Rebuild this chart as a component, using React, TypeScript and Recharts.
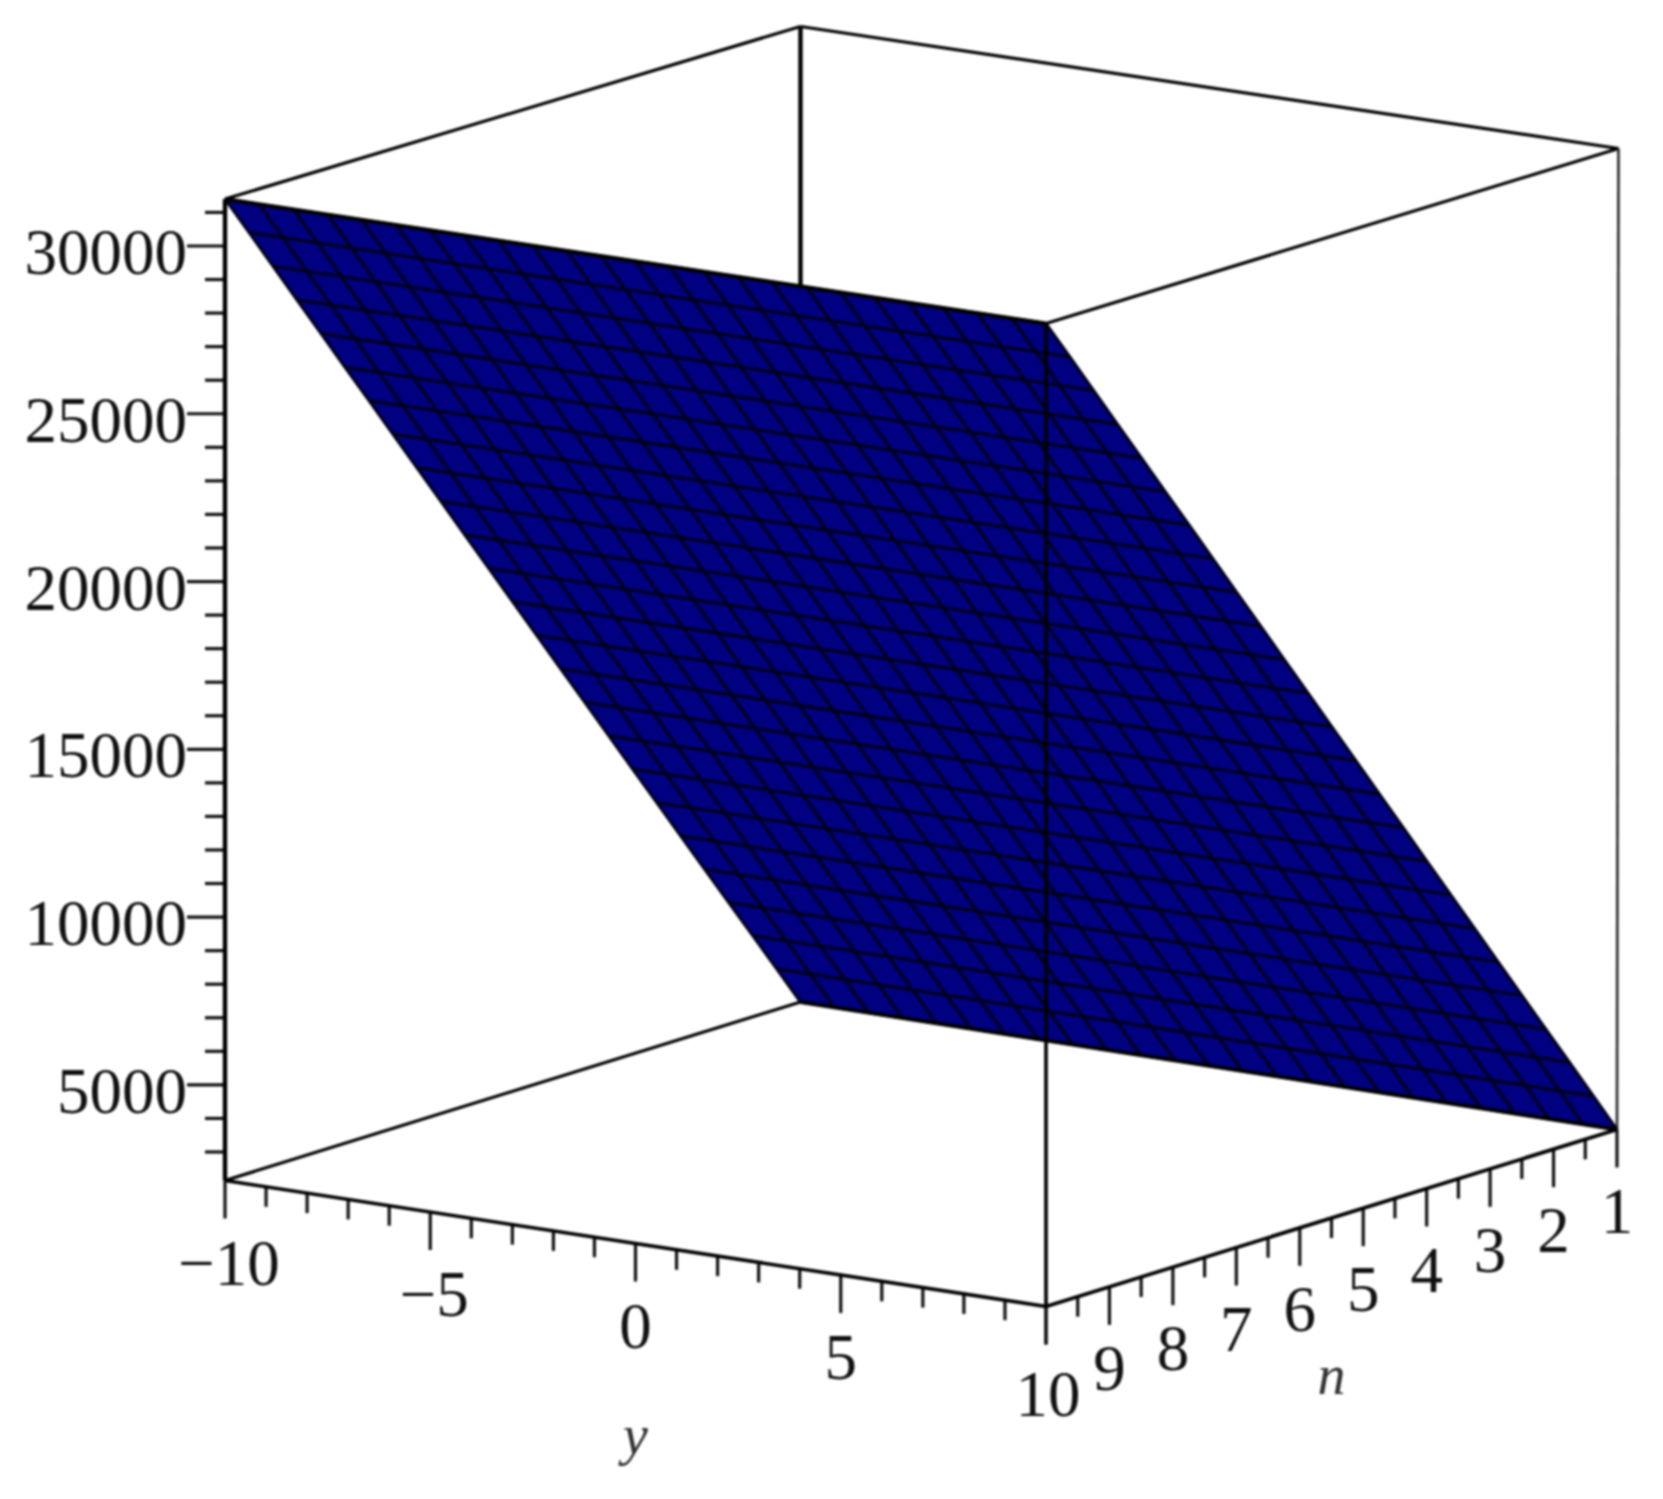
import React from 'react';
import { ComposedChart, XAxis, YAxis, Area, Line, Scatter } from 'recharts';

const W = 1663;
const H = 1499;

// Tick values
const zMajorTicks = [5000, 10000, 15000, 20000, 25000, 30000];
const zMinorTicks = [3000, 4000, 6000, 7000, 8000, 9000, 11000, 12000, 13000, 14000, 16000, 17000, 18000, 19000, 21000, 22000, 23000, 24000, 26000, 27000, 28000, 29000, 31000];
const yMajorTicks = [-10, -5, 0, 5, 10];
const yMinorTicks = [-9, -8, -7, -6, -4, -3, -2, -1, 1, 2, 3, 4, 6, 7, 8, 9];
const nMajorTicks = [1, 2, 3, 4, 5, 6, 7, 8, 9, 10];
const nMinorTicks = [1.5, 2.5, 3.5, 4.5, 5.5, 6.5, 7.5, 8.5, 9.5];

// Surface mesh: 25 x 25 grid
const meshY = [-10, -9.17, -8.33, -7.5, -6.67, -5.83, -5, -4.17, -3.33, -2.5, -1.67, -0.83, 0, 0.83, 1.67, 2.5, 3.33, 4.17, 5, 5.83, 6.67, 7.5, 8.33, 9.17, 10];
const meshN = [1, 1.375, 1.75, 2.125, 2.5, 2.875, 3.25, 3.625, 4, 4.375, 4.75, 5.125, 5.5, 5.875, 6.25, 6.625, 7, 7.375, 7.75, 8.125, 8.5, 8.875, 9.25, 9.625, 10];
const meshZ = [2150, 3370, 4590, 5800, 7020, 8240, 9460, 10680, 11900, 13120, 14340, 15560, 16780, 18000, 19220, 20440, 21660, 22880, 24100, 25310, 26530, 27750, 28970, 30190, 31400];

const Y_MIN = -10, Y_MAX = 10, N_MIN = 1, N_MAX = 10, Z_MIN = 2150, Z_MAX = 31400;

// View projection of the 3-D box onto the plane of the chart axes
const bottomCorners = { a: [225, 1180.5], b: [1046, 1306.5], c: [1617, 1129.5], d: [800.5, 1002] };
const topCorners = { a: [225, 199], b: [1046, 323.5], c: [1618.5, 148.5], d: [800.5, 26.5] };

type P = { px: number; py: number };

function project(y: number, n: number, z: number): P {
  const u = (y - Y_MIN) / (Y_MAX - Y_MIN);
  const v = (N_MAX - n) / (N_MAX - N_MIN);
  const w = (z - Z_MIN) / (Z_MAX - Z_MIN);
  const bil = (c: Record<string, number[]>, i: number) =>
    c.a[i] * (1 - u) * (1 - v) + c.b[i] * u * (1 - v) + c.c[i] * u * v + c.d[i] * (1 - u) * v;
  return {
    px: bil(bottomCorners, 0) * (1 - w) + bil(topCorners, 0) * w,
    py: bil(bottomCorners, 1) * (1 - w) + bil(topCorners, 1) * w,
  };
}

const zOf = (n: number) => meshZ[meshN.indexOf(n)];

const A = project(Y_MIN, N_MAX, Z_MAX);
const B = project(Y_MAX, N_MAX, Z_MAX);
const C = project(Y_MAX, N_MIN, Z_MIN);
const D = project(Y_MIN, N_MIN, Z_MIN);
const at = (p: P, q: P, x: number) => p.py + ((q.py - p.py) * (x - p.px)) / (q.px - p.px);

const surfaceBand = [
  { px: A.px, band: [A.py, A.py] },
  { px: D.px, band: [at(A, B, D.px), D.py] },
  { px: B.px, band: [B.py, at(D, C, B.px)] },
  { px: C.px, band: [C.py, C.py] },
];

const corner = project;
const backTop = corner(-10, 1, Z_MAX);

const backEdges: P[][] = [
  [corner(-10, 10, Z_MAX), corner(-10, 1, Z_MAX)],
  [corner(-10, 1, Z_MAX), corner(10, 1, Z_MAX)],
  [corner(10, 1, Z_MAX), corner(10, 10, Z_MAX)],
  // the rear post disappears behind the surface
  [backTop, { px: backTop.px, py: at(A, B, backTop.px) }],
  [corner(-10, 10, Z_MIN), corner(-10, 1, Z_MIN)],
];
const rightEdge: P[] = [corner(10, 1, Z_MAX), corner(10, 1, Z_MIN)];
const frontEdges: P[][] = [
  [corner(-10, 10, Z_MAX), corner(10, 10, Z_MAX)],
  [corner(-10, 1, Z_MIN), corner(10, 1, Z_MIN)],
  [corner(-10, 10, Z_MAX), corner(-10, 10, Z_MIN)],
  [corner(10, 10, Z_MAX), corner(10, 10, Z_MIN)],
  [corner(-10, 10, Z_MIN), corner(10, 10, Z_MIN)],
  [corner(10, 10, Z_MIN), corner(10, 1, Z_MIN)],
];

const meshConstN: P[][] = meshN.map((n) => [project(Y_MIN, n, zOf(n)), project(Y_MAX, n, zOf(n))]);
const meshConstY: P[][] = meshY.map((y) => meshN.map((n) => project(y, n, zOf(n))));

const MAJOR = 38;
const MINOR = 20;
const downTick = (p: P, len: number): P[] => [p, { px: p.px, py: p.py + len }];
const leftTick = (p: P, len: number): P[] => [p, { px: p.px - len, py: p.py }];

const tickSegments: P[][] = [
  ...zMajorTicks.map((z) => leftTick(project(-10, 10, z), MAJOR)),
  ...zMinorTicks.map((z) => leftTick(project(-10, 10, z), MINOR)),
  ...yMajorTicks.map((y) => downTick(project(y, 10, Z_MIN), MAJOR)),
  ...yMinorTicks.map((y) => downTick(project(y, 10, Z_MIN), MINOR)),
  ...nMajorTicks.map((n) => downTick(project(10, n, Z_MIN), MAJOR)),
  ...nMinorTicks.map((n) => downTick(project(10, n, Z_MIN), MINOR)),
];

const textLabels = [
  ...zMajorTicks.map((z) => {
    const p = project(-10, 10, z);
    return { px: p.px - 38, py: p.py + 6, text: String(z), anchor: 'end', italic: false };
  }),
  ...yMajorTicks.filter((y) => y !== 10).map((y) => {
    const p = project(y, 10, Z_MIN);
    return { px: p.px + (y < 0 ? 4 : 0), py: p.py + 82, text: String(y).replace('-', '\u2212'), anchor: 'middle', italic: false };
  }),
  ...nMajorTicks.map((n) => {
    const p = project(10, n, Z_MIN);
    return { px: p.px + (n === 10 ? 2 : 0), py: p.py + (n === 10 ? 87 : 81), text: String(n), anchor: 'middle', italic: false };
  }),
];
const axisTitles = [
  { px: project(0, 10, Z_MIN).px, py: project(0, 10, Z_MIN).py + 202, text: 'y', anchor: 'middle', italic: true },
  { px: project(10, 5.5, Z_MIN).px, py: project(10, 5.5, Z_MIN).py + 168, text: 'n', anchor: 'middle', italic: true },
];

const LabelShape = (props: any) => {
  const { cx, cy, payload } = props;
  const size = payload.italic ? 56 : 65;
  return (
    <text
      x={cx}
      y={cy + (payload.italic ? 8 : 22)}
      textAnchor={payload.anchor}
      fontFamily="'Liberation Serif', serif"
      fontStyle={payload.italic ? 'italic' : 'normal'}
      fontSize={size}
      fill={payload.italic ? '#333' : '#111'}
    >
      {payload.text}
    </text>
  );
};

const seg = (key: string, data: P[], stroke: string, width: number) => (
  <Line
    key={key}
    data={data}
    dataKey="py"
    type="linear"
    stroke={stroke}
    strokeWidth={width}
    dot={false}
    activeDot={false}
    legendType="none"
    isAnimationActive={false}
  />
);

export default function App() {
  return (
    <div style={{ position: 'absolute', left: 0, top: 0, width: W, height: H, background: '#fff', filter: 'blur(0.8px)' }}>
      <ComposedChart width={W} height={H} margin={{ top: 0, right: 0, bottom: 0, left: 0 }}>
        <XAxis type="number" dataKey="px" domain={[0, W]} hide allowDataOverflow />
        <YAxis type="number" dataKey="py" domain={[0, H]} reversed hide allowDataOverflow />
        {backEdges.map((d, i) => seg(`back${i}`, d, '#000', i === 3 ? 4.4 : 3.2))}
        {seg('right', rightEdge, '#333', 2.8)}
        {tickSegments.map((t, i) => seg(`tick${i}`, t, '#111', 3.2))}
        <Area
          data={surfaceBand}
          dataKey="band"
          type="linear"
          fill="#000080"
          fillOpacity={1}
          stroke="none"
          dot={false}
          activeDot={false}
          legendType="none"
          isAnimationActive={false}
        />
        {meshConstN.map((d, i) => seg(`mn${i}`, d, '#000018', 3))}
        {meshConstY.map((d, i) => seg(`my${i}`, d, '#000018', 3))}
        {frontEdges.map((d, i) => seg(`front${i}`, d, '#000', i === 2 ? 4.4 : i < 2 ? 4 : 3.6))}
        <Scatter data={[...textLabels, ...axisTitles]} dataKey="py" shape={LabelShape} legendType="none" isAnimationActive={false} />
      </ComposedChart>
    </div>
  );
}
